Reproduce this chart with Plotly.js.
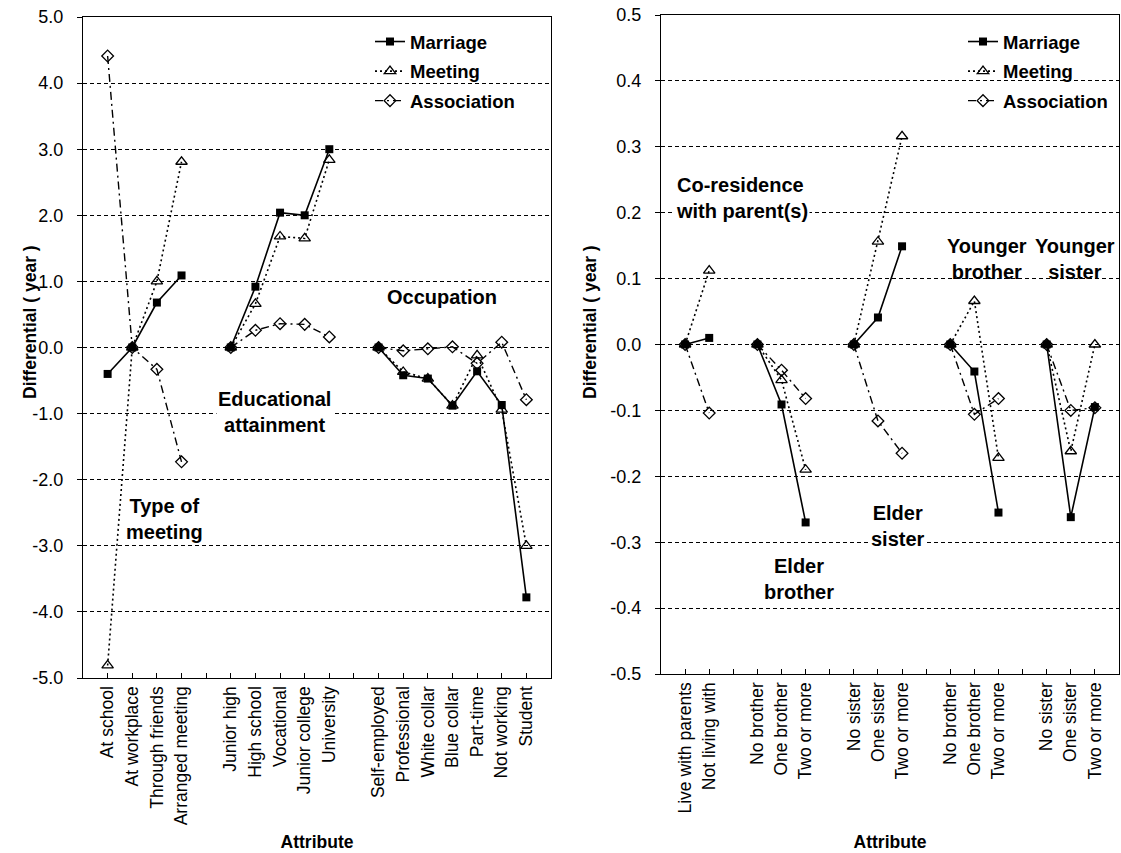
<!DOCTYPE html>
<html>
<head>
<meta charset="utf-8">
<script src="https://cdn.plot.ly/plotly-3.0.1.min.js"></script>
<style>html,body{margin:0;padding:0;background:#fff;}#chart{width:1121px;height:853px;}</style>
</head>
<body>
<div id="chart"></div>
<script>
// ---------- Left panel data ----------
const leftCats = ["At school","At workplace","Through friends","Arranged meeting","",
  "Junior high","High school","Vocational","Junior college","University","",
  "Self-employed","Professional","White collar","Blue collar","Part-time","Not working","Student"];
const leftMarriage    = [-0.40, 0, 0.68, 1.09, null, 0, 0.92, 2.04, 2.00, 3.00, null, 0, -0.42, -0.47, -0.88, -0.36, -0.87, -3.78];
const leftMeeting     = [-4.81, 0, 1.00, 2.81, null, 0, 0.66, 1.68, 1.65, 2.84, null, 0, -0.37, -0.47, -0.88, -0.12, -0.94, -3.00];
const leftAssociation = [ 4.41, 0, -0.33, -1.73, null, 0, 0.26, 0.36, 0.35, 0.16, null, 0, -0.05, -0.02, 0.01, -0.24, 0.08, -0.79];
const leftYTicks = [-5, -4, -3, -2, -1, 0, 1, 2, 3, 4, 5];

// ---------- Right panel data ----------
const rightCats = ["Live with parents","Not living with","",
  "No brother","One brother","Two or more","",
  "No sister","One sister","Two or more","",
  "No brother","One brother","Two or more","",
  "No sister","One sister","Two or more"];
const rightMarriage    = [0, 0.010, null, 0, -0.091, -0.270, null, 0, 0.041, 0.149, null, 0, -0.041, -0.255, null, 0, -0.262, -0.095];
const rightMeeting     = [0, 0.112, null, 0, -0.054, -0.190, null, 0, 0.156, 0.316, null, 0, 0.066, -0.172, null, 0, -0.162, 0.000];
const rightAssociation = [0, -0.104, null, 0, -0.039, -0.082, null, 0, -0.116, -0.165, null, 0, -0.106, -0.082, null, 0, -0.100, -0.096];
const rightYTicks = [-0.5, -0.4, -0.3, -0.2, -0.1, 0, 0.1, 0.2, 0.3, 0.4, 0.5];

const seriesNames = ["Marriage", "Meeting", "Association"];

// ---------- Styling ----------
const FONT = "Liberation Sans, Arial, Helvetica, sans-serif";
const styles = [
  {line: {color: "#000", width: 1.6, dash: "solid"}, marker: {symbol: "square", size: 8, color: "#000"}},
  {line: {color: "#000", width: 1.6, dash: "2px,3px"}, marker: {symbol: "triangle-up-open", size: 10, color: "#000", line: {width: 1.3, color: "#000"}}},
  {line: {color: "#000", width: 1.4, dash: "8px,4px,2px,4px"}, marker: {symbol: "diamond-open", size: 9, color: "#000", line: {width: 1.3, color: "#000"}}}
];

const idxL = leftCats.map((_, i) => i);
const idxR = rightCats.map((_, i) => i);
const fmt = v => v.toFixed(1);   // hyphen-minus like the original

function mk(x, y, k, xa, ya, lg) {
  return Object.assign({
    type: "scatter", mode: "lines+markers", x: x, y: y, name: seriesNames[k],
    xaxis: xa, yaxis: ya, legend: lg, legendgroup: lg + k, connectgaps: false, hoverinfo: "x+y"
  }, JSON.parse(JSON.stringify(styles[k])));
}

const data = [
  mk(idxL, leftMarriage, 0, "x", "y", "legend"),
  mk(idxL, leftMeeting, 1, "x", "y", "legend"),
  mk(idxL, leftAssociation, 2, "x", "y", "legend"),
  mk(idxR, rightMarriage, 0, "x2", "y2", "legend2"),
  mk(idxR, rightMeeting, 1, "x2", "y2", "legend2"),
  mk(idxR, rightAssociation, 2, "x2", "y2", "legend2")
];

const gridStyle = {showgrid: true, gridcolor: "#000", gridwidth: 1, griddash: "4px,3px", zeroline: false};
const xCommon = {
  range: [-1, 18], tickangle: -90, ticks: "inside", ticklen: 5, tickcolor: "#000",
  showline: true, linecolor: "#000", linewidth: 1.2, mirror: true, showgrid: false, zeroline: false,
  tickfont: {family: FONT, size: 17.5, color: "#000"}
};
const yCommon = Object.assign({
  ticks: "outside", ticklen: 5, tickcolor: "#000", ticklabelstandoff: 10,
  showline: true, linecolor: "#000", linewidth: 1.2, mirror: true,
  tickfont: {family: FONT, size: 18, color: "#000"}
}, gridStyle);

const titleFont = {family: FONT, size: 17.5, color: "#000", weight: "bold"};
const annFont = {family: FONT, size: 20, color: "#000", weight: "bold"};
const legFont = {family: FONT, size: 18.5, color: "#000", weight: "bold"};

const layout = {
  width: 1121, height: 853,
  margin: {l: 0, r: 0, t: 0, b: 0},
  paper_bgcolor: "#fff", plot_bgcolor: "#fff",
  font: {family: FONT, color: "#000"},
  xaxis: Object.assign({}, xCommon, {
    domain: [83/1121, 551/1121], anchor: "y",
    tickvals: idxL, ticktext: leftCats,
    title: {text: "Attribute", font: titleFont, standoff: 11}
  }),
  yaxis: Object.assign({}, yCommon, {
    domain: [175/853, 836/853], anchor: "x",
    range: [-5, 5], tickvals: leftYTicks, ticktext: leftYTicks.map(fmt)
  }),
  xaxis2: Object.assign({}, xCommon, {
    domain: [661/1121, 1119/1121], anchor: "y2",
    tickvals: idxR, ticktext: rightCats,
    title: {text: "Attribute", font: titleFont, standoff: 23}
  }),
  yaxis2: Object.assign({}, yCommon, {
    domain: [179/853, 838/853], anchor: "x2",
    range: [-0.5, 0.5], tickvals: rightYTicks, ticktext: rightYTicks.map(fmt)
  }),
  legend: {
    x: 370/1121, y: 1 - 23/853, xanchor: "left", yanchor: "top",
    bgcolor: "rgba(0,0,0,0)", borderwidth: 0, tracegroupgap: 2.5, font: legFont
  },
  legend2: {
    x: 963/1121, y: 1 - 23/853, xanchor: "left", yanchor: "top",
    bgcolor: "rgba(0,0,0,0)", borderwidth: 0, tracegroupgap: 2.5, font: legFont
  },
  annotations: [
    {text: "Differential ( year )", xref: "paper", yref: "paper", x: 18/1121, y: 1 - 322/853, textangle: -90, showarrow: false, font: titleFont},
    {text: "Differential ( year )", xref: "paper", yref: "paper", x: 590/1121, y: 1 - 322/853, textangle: -90, showarrow: false, font: titleFont},
    {text: "Type of<br>meeting", xref: "x", yref: "y", x: 2.30, y: -2.59, showarrow: false, font: annFont, align: "center"},
    {text: "Educational<br>attainment", xref: "x", yref: "y", x: 6.79, y: -0.97, showarrow: false, font: annFont, align: "center", bgcolor: "#fff"},
    {text: "Occupation", xref: "x", yref: "y", x: 13.58, y: 0.76, showarrow: false, font: annFont, align: "center"},
    {text: "Co-residence<br>with parent(s)", xref: "x2", yref: "y2", x: -0.45, y: 0.223, xanchor: "left", showarrow: false, font: annFont, align: "left", bgcolor: "#fff"},
    {text: "Elder<br>brother", xref: "x2", yref: "y2", x: 4.71, y: -0.356, showarrow: false, font: annFont, align: "center"},
    {text: "Elder<br>sister", xref: "x2", yref: "y2", x: 8.84, y: -0.275, showarrow: false, font: annFont, align: "center", bgcolor: "#fff"},
    {text: "Younger<br>brother", xref: "x2", yref: "y2", x: 12.52, y: 0.129, showarrow: false, font: annFont, align: "center"},
    {text: "Younger<br>sister", xref: "x2", yref: "y2", x: 16.18, y: 0.129, showarrow: false, font: annFont, align: "center"}
  ]
};

Plotly.newPlot("chart", data, layout, {displayModeBar: false, staticPlot: true});
</script>
</body>
</html>
